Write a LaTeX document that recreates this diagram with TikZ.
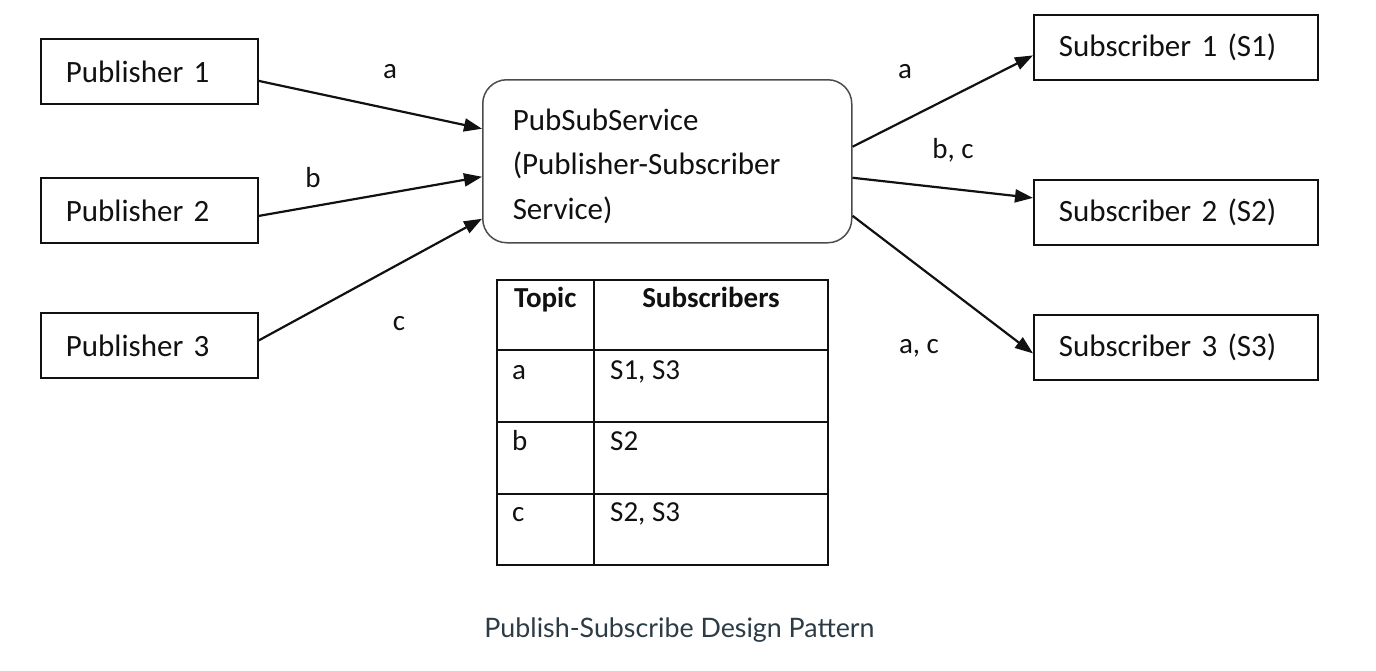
\documentclass[tikz,border=0pt]{standalone}
\usepackage{fontspec}
\setmainfont{Carlito}
\newfontfamily\capfont{Lato}
\usetikzlibrary{arrows.meta}
\definecolor{captxt}{HTML}{2D3B45}
\definecolor{ink}{HTML}{111111}
\begin{document}
\begin{tikzpicture}[x=1pt,y=-1pt,
  txt/.style={font=\fontsize{31}{37}\selectfont, text=ink},
  pbox/.style={txt, draw=ink, line width=1.8pt, anchor=north west, minimum width=217pt, minimum height=65pt, text width=167pt, inner xsep=25pt, inner ysep=0pt, align=left},
  sbox/.style={txt, draw=ink, line width=1.8pt, anchor=north west, minimum width=284pt, minimum height=65pt, text width=234pt, inner xsep=25pt, inner ysep=0pt, align=left},
  svc/.style={txt, draw=black!70, line width=1.5pt, rounded corners=24pt, anchor=north west, minimum width=369pt, minimum height=163pt, text width=309pt, inner xsep=30pt, align=left, font=\fontsize{31}{44.5}\selectfont},
  conn/.style={draw=ink, line width=2.2pt, -{Triangle[length=18pt,width=13pt]}},
  lbl/.style={font=\fontsize{29}{34}\selectfont, text=ink, anchor=base, inner sep=0pt},
  cell/.style={font=\fontsize{29}{34}\selectfont, text=ink, anchor=base west, inner sep=0pt},
  hcell/.style={font=\bfseries\fontsize{29}{34}\selectfont, text=ink, inner sep=0pt},
  tline/.style={draw=ink, line width=1.8pt}
]
\useasboundingbox (0,0) rectangle (1376,670);

% publishers
\node[pbox] (p1) at (40,38) {Publisher 1};
\node[pbox] (p2) at (40,177) {Publisher 2};
\node[pbox] (p3) at (40,312) {Publisher 3};

% service
\node[svc] (ps) at (482,79) {\rule{0pt}{31pt}PubSubService\\(Publisher-Subscriber\\Service)};

% subscribers
\node[sbox] (s1) at (1033,14) {Subscriber 1 (S1)};
\node[sbox] (s2) at (1033,179) {Subscriber 2 (S2)};
\node[sbox] (s3) at (1033,314) {Subscriber 3 (S3)};

% connectors
\draw[conn] ([yshift=-9.5pt]p1.east) -- ([yshift=32.5pt]ps.west);
\draw[conn] ([yshift=-5.5pt]p2.east) -- ([yshift=-15.5pt]ps.west);
\draw[conn] ([yshift=5pt]p3.east) -- ([yshift=-57.5pt]ps.west);
\draw[conn] ([yshift=14.5pt]ps.east) -- ([yshift=-8pt]s1.west);
\draw[conn] ([yshift=-16.5pt]ps.east) -- ([yshift=14.5pt]s2.west);
\draw[conn] ([yshift=-54.5pt]ps.east) -- ([yshift=-6pt]s3.west);

% connector labels
\node[lbl] (la1) at (390,78) {a};
\node[lbl] (lb2) at (313,187) {b};
\node[lbl] (lc3) at (399,330) {c};
\node[lbl] (ls1) at (905,78) {a};
\node[lbl] (ls2) at (953,158) {b, c};
\node[lbl] (ls3) at (919,353) {a, c};

% table
\draw[tline] (497,280) rectangle (828,565);
\draw[tline] (594,280) -- (594,565);
\draw[tline] (497,350) -- (828,350);
\draw[tline] (497,422) -- (828,422);
\draw[tline] (497,494) -- (828,494);
\node[hcell, anchor=base west] (th1) at (514,307) {Topic};
\node[hcell, anchor=base] (th2) at (711,307) {Subscribers};
\node[cell] (ta) at (512,379) {a};
\node[cell] (tas) at (610,379) {S1, S3};
\node[cell] (tb) at (512,450) {b};
\node[cell] (tbs) at (610,450) {S2};
\node[cell] (tc) at (512,521) {c};
\node[cell] (tcs) at (610,521) {S2, S3};

% caption
\node[font=\capfont\fontsize{26.8}{32}\selectfont, text=captxt, anchor=base, inner sep=0pt] (cap) at (679.5,637) {Publish-Subscribe Design Pattern};
\end{tikzpicture}
\end{document}
